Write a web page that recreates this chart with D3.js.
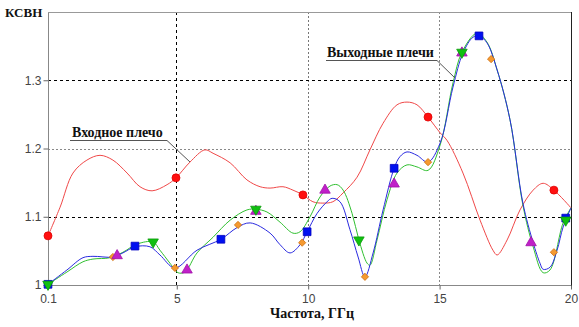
<!DOCTYPE html>
<html><head><meta charset="utf-8">
<script src="https://cdn.jsdelivr.net/npm/d3@7"></script>
<style>body{margin:0;background:#fff}svg{display:block}</style>
</head><body>
<script>
// ---- data ----
const xTicks = [0.1, 5, 10, 15, 20];
const yTicks = [1, 1.1, 1.2, 1.3];

const inFreq = [0.1,0.56,1.05,1.58,2.08,2.57,3.11,3.6,4.06,4.63,4.97,5.5,6.07,6.38,7.03,7.67,8.17,8.55,9.04,9.42,9.8,10.18,10.56,10.94,11.33,11.86,12.35,12.85,13.38,13.76,14.14,14.56,15.02,15.28,15.89,16.54,17.03,17.19,17.57,18.06,18.56,18.94,19.35,20];
const inVswr = [1.072,1.114,1.164,1.183,1.19,1.183,1.164,1.144,1.138,1.147,1.157,1.18,1.198,1.193,1.179,1.154,1.144,1.142,1.144,1.139,1.132,1.122,1.12,1.122,1.135,1.158,1.198,1.237,1.264,1.268,1.264,1.246,1.223,1.212,1.164,1.095,1.051,1.044,1.066,1.11,1.139,1.149,1.139,1.113];

const outAFreq = [0.1,0.82,1.43,1.81,2.57,2.95,3.41,3.98,4.36,4.93,5.77,6.68,7.29,7.79,8.55,8.93,9.31,9.69,9.96,10.34,10.72,10.91,11.21,11.59,11.9,12.16,12.47,12.85,13.27,13.49,13.76,14.14,14.56,15.02,15.51,15.89,16.27,16.5,16.8,17.19,17.68,18.17,18.56,18.82,18.94,19.2,19.47,19.7,20];
const outAVswr = [1.001,1.022,1.04,1.042,1.041,1.047,1.056,1.056,1.044,1.025,1.051,1.067,1.084,1.091,1.076,1.059,1.047,1.059,1.078,1.105,1.122,1.127,1.122,1.081,1.041,1.012,1.047,1.11,1.171,1.188,1.195,1.19,1.18,1.208,1.29,1.34,1.363,1.365,1.355,1.315,1.242,1.12,1.062,1.032,1.023,1.026,1.051,1.085,1.113];

const outBFreq = [0.1,0.82,1.43,1.81,2.46,2.95,3.49,4.1,4.36,4.74,5.05,5.31,5.77,6.38,7.03,7.67,8.01,8.43,8.93,9.42,9.69,10.07,10.45,10.83,11.1,11.33,11.67,11.93,12.24,12.35,12.62,13.0,13.38,13.76,14.14,14.56,15.02,15.51,15.85,16.42,16.8,17.19,17.68,18.17,18.56,18.94,19.2,19.7,20];
const outBVswr = [1.001,1.019,1.034,1.038,1.04,1.048,1.06,1.063,1.051,1.032,1.018,1.019,1.047,1.07,1.095,1.11,1.111,1.107,1.092,1.076,1.078,1.1,1.129,1.145,1.147,1.139,1.105,1.066,1.032,1.029,1.066,1.125,1.164,1.176,1.173,1.168,1.205,1.296,1.341,1.369,1.356,1.315,1.242,1.117,1.056,1.018,1.022,1.091,1.113];

const circleF = [0.1, 4.97, 9.8, 14.56, 19.35];
const circleV = [1.072, 1.157, 1.132, 1.246, 1.139];
const squareF = [0.1, 3.41, 6.68, 9.96, 13.27, 16.5, 19.8];
const squareV = [1.001, 1.057, 1.067, 1.078, 1.171, 1.365, 1.098];
const triDownF = [0.1, 4.1, 8.01, 11.93, 15.85, 19.8];
const triDownV = [1.001, 1.063, 1.111, 1.066, 1.341, 1.095];
const triUpF = [2.73, 5.39, 8.01, 10.64, 13.27, 15.85, 18.48];
const triUpV = [1.043, 1.022, 1.108, 1.139, 1.148, 1.34, 1.062];
const diamondF = [2.57, 4.93, 7.33, 9.77, 12.16, 14.56, 16.96, 19.35];
const diamondV = [1.041, 1.025, 1.088, 1.062, 1.012, 1.18, 1.331, 1.048];

const labelIn = "Входное плечо";
const labelOut = "Выходные плечи";
const yTitle = "КСВН";
const xTitle = "Частота, ГГц";

// ---- chart ----
const W = 579, H = 327;
const svg = d3.select("body").append("svg").attr("width", W).attr("height", H);
const x = d3.scaleLinear().domain([0.1, 20]).range([48, 571]);
const y = d3.scaleLinear().domain([1, 1.4]).range([285, 12]);

const serif = "'Liberation Serif','Times New Roman',serif";
const sans = "'Liberation Sans',Arial,sans-serif";

// grid
const gridStyleX = {5: ["#000", "3,3"], 10: ["#777", "2,2"], 15: ["#888", "2,2"]};
xTicks.filter(t => gridStyleX[t]).forEach(t => {
  svg.append("line").attr("x1", x(t)).attr("x2", x(t)).attr("y1", y(1.4)).attr("y2", y(1))
    .attr("stroke", gridStyleX[t][0]).attr("stroke-dasharray", gridStyleX[t][1]).attr("shape-rendering", "crispEdges");
});
const gridStyleY = {1.1: ["#000", "3,3"], 1.2: ["#888", "2,2"], 1.3: ["#000", "3,3"]};
yTicks.filter(t => gridStyleY[t]).forEach(t => {
  svg.append("line").attr("x1", x(0.1)).attr("x2", x(20)).attr("y1", Math.round(y(t)) + 0.5).attr("y2", Math.round(y(t)) + 0.5)
    .attr("stroke", gridStyleY[t][0]).attr("stroke-dasharray", gridStyleY[t][1]);
});

// frame
svg.append("line").attr("x1", 48.5).attr("x2", 48.5).attr("y1", 12).attr("y2", 286).attr("stroke", "#888");
svg.append("line").attr("x1", 48).attr("x2", 572).attr("y1", 285.5).attr("y2", 285.5).attr("stroke", "#888");
svg.append("line").attr("x1", 48).attr("x2", 572).attr("y1", 12.5).attr("y2", 12.5).attr("stroke", "#999");
svg.append("line").attr("x1", 571.5).attr("x2", 571.5).attr("y1", 12).attr("y2", 286).attr("stroke", "#222");

// axes
const xAxis = d3.axisBottom(x).tickValues(xTicks).tickFormat(d => String(d)).tickSize(4).tickPadding(5);
const gx = svg.append("g").attr("transform", "translate(0,285.5)").call(xAxis);
const yAxis = d3.axisLeft(y).tickValues(yTicks).tickFormat(d => String(d)).tickSize(5).tickPadding(2);
const gy = svg.append("g").attr("transform", "translate(48.5,0)").call(yAxis);
[gx, gy].forEach(g => {
  g.select(".domain").remove();
  g.selectAll(".tick line").attr("stroke", "#666");
  g.selectAll("text").attr("fill", "#444").style("font-family", sans).style("font-size", "12px");
});

// titles
svg.append("text").attr("x", 5).attr("y", 17).text(yTitle)
  .style("font-family", serif).style("font-size", "13px").style("font-weight", "bold").attr("fill", "#111");
svg.append("text").attr("x", 312).attr("y", 318).attr("text-anchor", "middle").text(xTitle)
  .style("font-family", serif).style("font-size", "14px").style("font-weight", "bold").attr("fill", "#111");

// lines
const lineGen = d3.line().x(d => x(d[0])).y(d => y(d[1])).curve(d3.curveCatmullRom.alpha(0.5));
const zip = (a, b) => a.map((v, i) => [v, b[i]]);
svg.append("path").attr("d", lineGen(zip(inFreq, inVswr))).attr("fill", "none").attr("stroke", "#f04848").attr("stroke-width", 1);
svg.append("path").attr("d", lineGen(zip(outBFreq, outBVswr))).attr("fill", "none").attr("stroke", "#30c030").attr("stroke-width", 1);
svg.append("path").attr("d", lineGen(zip(outAFreq, outAVswr))).attr("fill", "none").attr("stroke", "#2a2ae0").attr("stroke-width", 1);

// annotations
function annot(label, tx, ty, ux1, ux2, ex, ey) {
  svg.append("text").attr("x", tx).attr("y", ty).text(label)
    .style("font-family", serif).style("font-size", "14px").style("font-weight", "bold").attr("fill", "#111");
  svg.append("polyline").attr("points", `${ux1},${ty + 3.5} ${ux2},${ty + 3.5} ${ex},${ey}`)
    .attr("fill", "none").attr("stroke", "#555").attr("stroke-width", 1);
}
annot(labelIn, 72, 137, 70, 167, 190, 162);
annot(labelOut, 327, 57, 326, 437, 455, 78);

// markers
function markers(fs, vs, type, size, fill, stroke, rot) {
  svg.append("g").selectAll("path").data(zip(fs, vs)).join("path")
    .attr("d", d3.symbol().type(type).size(size)())
    .attr("transform", d => `translate(${x(d[0])},${y(d[1])}) rotate(${rot || 0})`)
    .attr("fill", fill).attr("stroke", stroke).attr("stroke-width", 0.8);
}
markers(diamondF, diamondV, d3.symbolSquare, 26, "#f59a30", "#d07010", 45);
markers(triUpF, triUpV, d3.symbolTriangle, 48, "#c020c8", "#a010a8");
markers(squareF, squareV, d3.symbolSquare, 60, "#0010f0", "#0000c0");
markers(triDownF, triDownV, d3.symbolTriangle, 48, "#10c010", "#0a9a0a", 180);
markers(circleF, circleV, d3.symbolCircle, 50, "#ff1010", "#e00000");
</script>
</body></html>
